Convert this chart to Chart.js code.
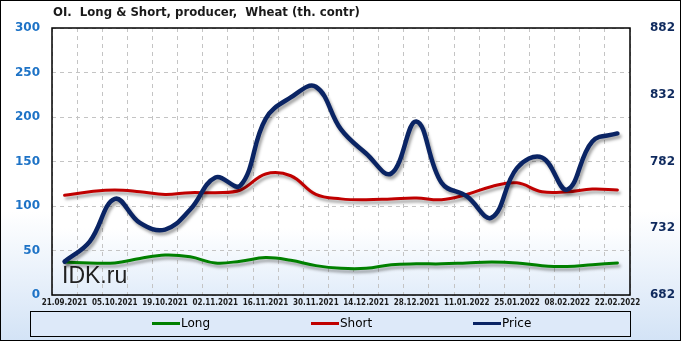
<!DOCTYPE html>
<html>
<head>
<meta charset="utf-8">
<script src="https://cdn.jsdelivr.net/npm/chart.js@4.4.1/dist/chart.umd.min.js"></script>
<style>
html,body{margin:0;padding:0;background:#fff;}
</style>
</head>
<body>
<canvas id="myChart" width="681" height="341"></canvas>
<script>
// weekly report dates
const dates = ['21.09.2021','28.09.2021','05.10.2021','12.10.2021','19.10.2021','26.10.2021','02.11.2021','09.11.2021',
  '16.11.2021','23.11.2021','30.11.2021','07.12.2021','14.12.2021','21.12.2021','28.12.2021','04.01.2022',
  '11.01.2022','18.01.2022','25.01.2022','01.02.2022','08.02.2022','15.02.2022','22.02.2022'];

const longValues  = [37,36,36,41,45,43,36,38,42,39,33,30,30,34,35,35,36,37,36,33,32,34,36];
const shortValues = [112,116,118,116,113,115,115,118,136,134,113,108,107,108,109,107,113,122,126,116,116,119,118];
const priceValues = [707,722,754,736,731,746,770,764,814,830,838,806,788,773,812,766,756,740,777,785,761,797,803];

const titleText = 'OI.  Long & Short, producer,  Wheat (th. contr)';
const legendItems = [
  {text:'Long', color:'#008000', x:152},
  {text:'Short', color:'#c00000', x:311},
  {text:'Price', color:'#0a2464', x:473}
];

// background, title, legend box, plot frame, watermark
const decor = {
  id:'decor',
  beforeDraw(chart){
    const {ctx, chartArea:a, width, height} = chart;
    ctx.save();
    let g = ctx.createLinearGradient(0,0,0,height);
    g.addColorStop(0,'#ffffff');
    g.addColorStop(0.62,'#ffffff');
    g.addColorStop(1,'#d3e3f6');
    ctx.fillStyle = g;
    ctx.fillRect(0,0,width,height);

    let g2 = ctx.createLinearGradient(0,a.top,0,a.bottom);
    g2.addColorStop(0,'#ffffff');
    g2.addColorStop(0.75,'#ffffff');
    g2.addColorStop(1,'#e2edfa');
    ctx.fillStyle = g2;
    ctx.fillRect(a.left,a.top,a.right-a.left,a.bottom-a.top);

    ctx.fillStyle = '#1a1a1a';
    ctx.font = 'bold 13px "DejaVu Sans Condensed"';
    ctx.textBaseline = 'middle';
    ctx.textAlign = 'left';
    ctx.fillText(titleText, 53, 13);

    // legend box
    ctx.fillStyle = '#dde9f9';
    ctx.fillRect(30.5,311.5,600,25);
    ctx.strokeStyle = '#000';
    ctx.lineWidth = 1;
    ctx.strokeRect(30.5,311.5,600,25);
    ctx.font = '12px "DejaVu Sans"';
    legendItems.forEach(it => {
      ctx.strokeStyle = it.color;
      ctx.lineWidth = 3;
      ctx.beginPath();
      ctx.moveTo(it.x,323.5);
      ctx.lineTo(it.x+28,323.5);
      ctx.stroke();
      ctx.fillStyle = '#000';
      ctx.fillText(it.text, it.x+29, 324);
    });

    ctx.strokeStyle = '#000';
    ctx.lineWidth = 1;
    ctx.strokeRect(0.5,0.5,width-1,height-1);
    ctx.restore();
  },
  beforeDatasetsDraw(chart){
    const {ctx, chartArea:a} = chart;
    ctx.save();
    ctx.fillStyle = '#222';
    ctx.font = '23px "Liberation Sans"';
    ctx.textBaseline = 'alphabetic';
    ctx.fillText('IDK.ru', 62, 283);
    ctx.strokeStyle = '#000';
    ctx.lineWidth = 1.5;
    ctx.strokeRect(a.left,a.top,a.right-a.left,a.bottom-a.top);
    ctx.restore();
  },
  beforeDatasetDraw(chart){
    const ctx = chart.ctx;
    ctx.save();
    ctx.shadowColor = 'rgba(0,0,0,0.35)';
    ctx.shadowBlur = 3;
    ctx.shadowOffsetX = 2;
    ctx.shadowOffsetY = 3;
  },
  afterDatasetDraw(chart){
    chart.ctx.restore();
  }
};

let myChart = new Chart(document.getElementById('myChart').getContext('2d'), {
  type:'line',
  data:{
    labels:dates,
    datasets:[
      {label:'Long', data:longValues, borderColor:'#008000', borderWidth:3, yAxisID:'y', order:2},
      {label:'Short', data:shortValues, borderColor:'#c00000', borderWidth:3, yAxisID:'y', order:1},
      {label:'Price', data:priceValues, borderColor:'#0a2464', borderWidth:4.5, yAxisID:'y1', order:0}
    ]
  },
  options:{
    responsive:false,
    animation:false,
    devicePixelRatio:1,
    elements:{
      line:{tension:0.4, fill:false, borderCapStyle:'round', borderJoinStyle:'round'},
      point:{radius:0}
    },
    layout:{padding:{top:28, bottom:32, left:0, right:0}},
    plugins:{legend:{display:false}, tooltip:{enabled:false}},
    scales:{
      x:{
        offset:true,
        grid:{offset:true, color:'#c4c4c4', drawTicks:false},
        border:{display:false, dash:[4,4]},
        ticks:{
          autoSkip:false, maxRotation:0, padding:3, color:'#1a1a1a',
          font:{family:'DejaVu Sans Condensed', size:8, weight:'bold'},
          callback:(v,i) => i % 2 === 0 ? dates[i] : ''
        },
        afterFit:s => { s.height = 14; }
      },
      y:{
        position:'left', min:0, max:300,
        grid:{color:'#c4c4c4', drawTicks:false},
        border:{display:false, dash:[4,4]},
        ticks:{stepSize:50, padding:12, color:'#1e73c6', font:{family:'DejaVu Sans', size:12, weight:'bold'}},
        afterFit:s => { s.width = 52; }
      },
      y1:{
        position:'right', min:682, max:882,
        grid:{display:false},
        border:{display:false},
        ticks:{stepSize:50, padding:12, color:'#0f2a5e', font:{family:'DejaVu Sans', size:12, weight:'bold'}},
        afterFit:s => { s.width = 51; }
      }
    }
  },
  plugins:[decor]
});
</script>
</body>
</html>
